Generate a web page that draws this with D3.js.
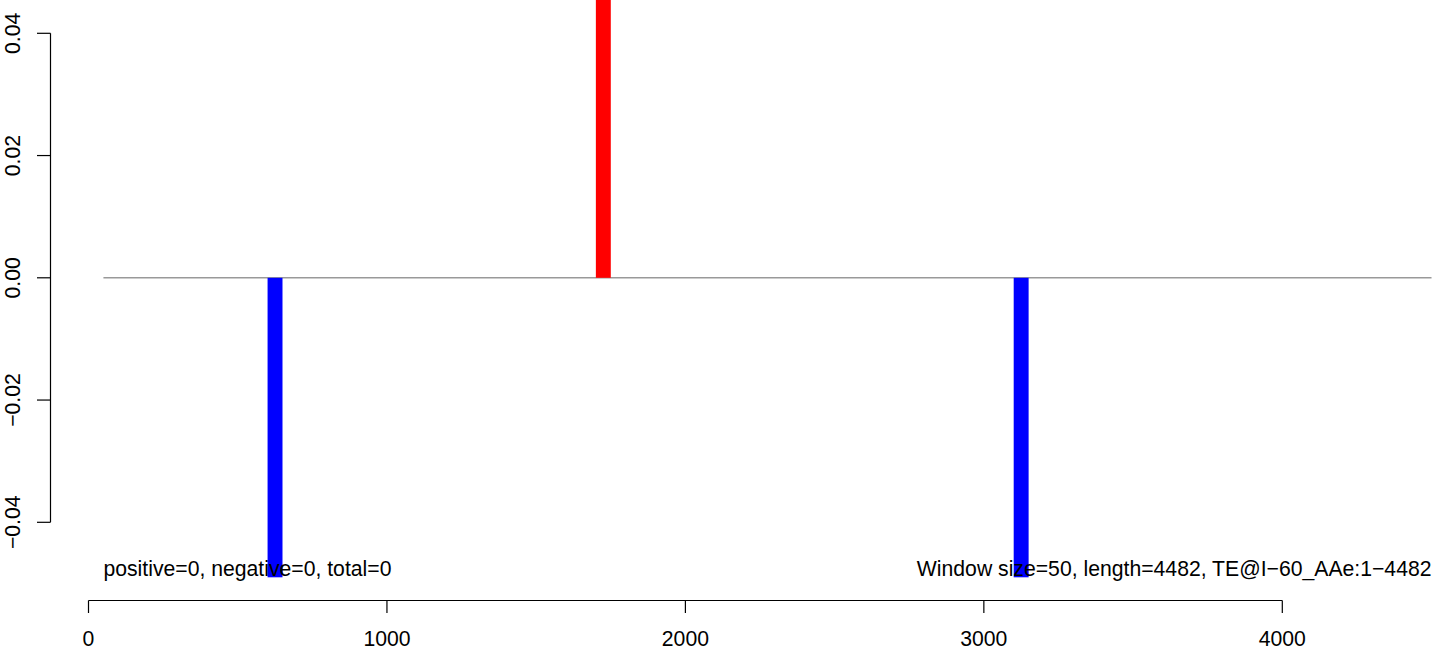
<!DOCTYPE html>
<html>
<head>
<meta charset="utf-8">
<script src="https://cdn.jsdelivr.net/npm/d3@7"></script>
<style>
  html, body { margin: 0; padding: 0; background: #fff; }
  svg text { font-family: "Liberation Sans", Arial, Helvetica, sans-serif; }
</style>
</head>
<body>
<svg id="chart" width="1444" height="648"></svg>
<script>
// Data
const windowStarts = [600, 1700, 3100];
const windowSize = 50;
const windowValues = [-0.049, 0.049, -0.049];
const windowColors = ["#0000FF", "#FF0000", "#0000FF"];
const xTicks = [0, 1000, 2000, 3000, 4000];
const yTicks = [-0.04, -0.02, 0.00, 0.02, 0.04];
const baselineRange = [50, 4500];
const leftLabel = "positive=0, negative=0, total=0";
const rightLabel = "Window size=50, length=4482, TE@I\u221260_AAe:1\u22124482";

const svg = d3.select("#chart");
const fs = 21.2;

const x = d3.scaleLinear().domain([0, 4000]).range([88.5, 1282.3]);
const y = d3.scaleLinear().domain([-0.04, 0.04]).range([522.3, 33.3]);

// baseline zero line
svg.append("line")
  .attr("x1", x(baselineRange[0])).attr("x2", x(baselineRange[1]))
  .attr("y1", y(0)).attr("y2", y(0))
  .attr("stroke", "#999999").attr("stroke-width", 1.5);

// bars
svg.append("g").selectAll("rect")
  .data(windowStarts.map((s, i) => ({s, v: windowValues[i], c: windowColors[i]})))
  .join("rect")
  .attr("x", d => x(d.s))
  .attr("width", d => x(d.s + windowSize) - x(d.s))
  .attr("y", d => Math.min(y(0), y(d.v)))
  .attr("height", d => Math.abs(y(d.v) - y(0)))
  .attr("fill", d => d.c);

// annotation texts
svg.append("text")
  .attr("x", x(baselineRange[0])).attr("y", 576)
  .attr("font-size", fs).attr("fill", "#000")
  .text(leftLabel);
svg.append("text")
  .attr("x", x(baselineRange[1])).attr("y", 576)
  .attr("text-anchor", "end")
  .attr("font-size", fs).attr("fill", "#000")
  .text(rightLabel);

// x axis
const gx = svg.append("g");
gx.append("line")
  .attr("x1", x(xTicks[0])).attr("x2", x(xTicks[xTicks.length - 1]))
  .attr("y1", 600.5).attr("y2", 600.5)
  .attr("stroke", "#000").attr("stroke-width", 1.2);
gx.selectAll("line.tick").data(xTicks).join("line")
  .attr("class", "tick")
  .attr("x1", d => x(d)).attr("x2", d => x(d))
  .attr("y1", 600.5).attr("y2", 613)
  .attr("stroke", "#000").attr("stroke-width", 1.2);
gx.selectAll("text").data(xTicks).join("text")
  .attr("x", d => x(d)).attr("y", 645.5)
  .attr("text-anchor", "middle")
  .attr("font-size", fs)
  .text(d => d3.format("d")(d));

// y axis
const gy = svg.append("g");
gy.append("line")
  .attr("x1", 50.5).attr("x2", 50.5)
  .attr("y1", y(yTicks[0])).attr("y2", y(yTicks[yTicks.length - 1]))
  .attr("stroke", "#000").attr("stroke-width", 1.2);
gy.selectAll("line.tick").data(yTicks).join("line")
  .attr("class", "tick")
  .attr("x1", 37).attr("x2", 50.5)
  .attr("y1", d => y(d)).attr("y2", d => y(d))
  .attr("stroke", "#000").attr("stroke-width", 1.2);
gy.selectAll("text").data(yTicks).join("text")
  .attr("transform", d => `translate(20,${y(d)}) rotate(-90)`)
  .attr("text-anchor", "middle")
  .attr("font-size", fs)
  .text(d => d3.format(".2f")(d).replace("-", "\u2212"));
</script>
</body>
</html>
